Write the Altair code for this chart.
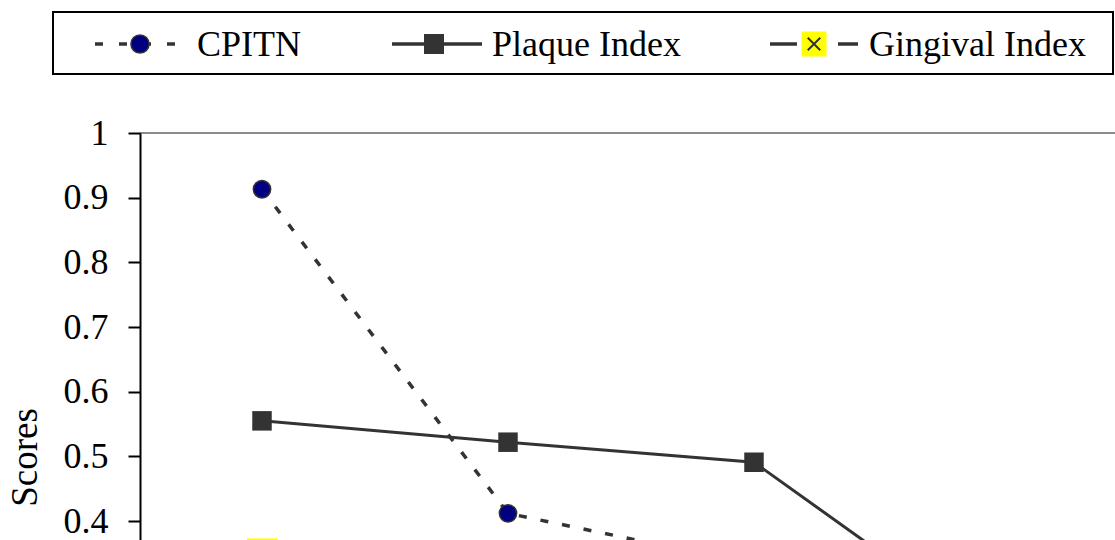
import altair as alt
import pandas as pd

# ---- data ----
categories = ["Baseline", "1 month", "3 months", "6 months"]
cpitn = [0.913, 0.412, 0.333, 0.30]
plaque = [0.555, 0.522, 0.491, 0.219]
gingival = [0.35, 0.31, 0.27, 0.20]
series_names = ["CPITN", "Plaque Index", "Gingival Index"]
y_ticks = [0.4, 0.5, 0.6, 0.7, 0.8, 0.9, 1.0]

FONT = "Times New Roman, Liberation Serif, DejaVu Serif, serif"
FS = 36
LEFT, TOP = 140, 133
W, H = 975, 407
Y_MIN = 0.3708
DARK = "#333333"

rows = []
for name, vals in zip(series_names, [cpitn, plaque, gingival]):
    for c, v in zip(categories, vals):
        rows.append({"cat": c, "series": name, "value": v})
df = pd.DataFrame(rows)

xenc = alt.X("cat:N", sort=categories,
             scale=alt.Scale(type="point", domain=categories, range=[122, 860], padding=0),
             axis=None)
yscale = alt.Scale(domain=[Y_MIN, 1.0], nice=False, zero=False)
yenc = alt.Y("value:Q", scale=yscale, title="Scores",
             axis=alt.Axis(values=y_ticks, format="~g", grid=False,
                           domainColor="black", domainWidth=2,
                           tickColor="black", tickWidth=2, tickSize=12,
                           labelFont=FONT, labelFontSize=FS, labelColor="black",
                           labelPadding=20,
                           titleFont=FONT, titleFontSize=FS + 1, titleColor="black",
                           titleFontWeight="normal", titleX=-115, titleY=324,
                           titleAngle=-90, titleAlign="center", titleBaseline="middle",
                           zindex=1))

base = alt.Chart(df).encode(x=xenc, y=yenc)

def sel(name):
    return alt.datum.series == name

top_rule = alt.Chart(pd.DataFrame({"value": [1.0]})).mark_rule(
    color="#8c8c8c", strokeWidth=2).encode(
    y=alt.Y("value:Q", scale=yscale), x=alt.value(0), x2=alt.value(W))

cp_line = base.transform_filter(sel("CPITN")).mark_line(
    color=DARK, strokeWidth=3.5, strokeDash=[8, 14], clip=True)
cp_pts = base.transform_filter(sel("CPITN")).mark_point(
    shape="circle", filled=True, fill="#000080", stroke=DARK, strokeWidth=1.5,
    size=300, opacity=1, clip=True)
pl_line = base.transform_filter(sel("Plaque Index")).mark_line(
    color=DARK, strokeWidth=3, clip=True)
pl_pts = base.transform_filter(sel("Plaque Index")).mark_point(
    shape="square", filled=True, fill=DARK, size=380, opacity=1, clip=True)
gi_line = base.transform_filter(sel("Gingival Index")).mark_line(
    color=DARK, strokeWidth=3, strokeDash=[26, 10], clip=True)
gi_pts = base.transform_filter(sel("Gingival Index")).mark_point(
    shape="square", filled=True, fill="#ffff00", size=900, opacity=1, clip=True)
XPATH = "M-0.5,-0.5L0.5,0.5M-0.5,0.5L0.5,-0.5"
gi_x = base.transform_filter(sel("Gingival Index")).mark_point(
    shape=XPATH, filled=False, stroke=DARK, strokeWidth=2, size=900, opacity=1, clip=True)

# ---- legend (drawn in pixel space above the plot) ----
one = pd.DataFrame({"a": [0]})
LY = 44 - TOP

def px(v):
    return v - LEFT

legend_box = alt.Chart(one).mark_rect(fill="white", stroke="black", strokeWidth=2).encode(
    x=alt.value(px(53)), x2=alt.value(px(1113)), y=alt.value(12 - TOP), y2=alt.value(74 - TOP))

def seg(x1, x2, dash=None):
    kw = dict(color=DARK, strokeWidth=3.5)
    if dash:
        kw["strokeDash"] = dash
    return alt.Chart(one).mark_rule(**kw).encode(
        x=alt.value(px(x1)), x2=alt.value(px(x2)), y=alt.value(LY), y2=alt.value(LY))

def sym(xc, **kw):
    return alt.Chart(one).mark_point(opacity=1, **kw).encode(
        x=alt.value(px(xc)), y=alt.value(LY))

def txt(x0, s):
    return alt.Chart(one).mark_text(text=s, font=FONT, fontSize=FS, color="black",
                                    align="left", baseline="middle").encode(
        x=alt.value(px(x0)), y=alt.value(LY + 1))

legend = [
    legend_box,
    seg(95, 176, [8, 16]),
    sym(140, shape="circle", filled=True, fill="#000080", stroke=DARK, strokeWidth=1.5, size=330),
    txt(197, series_names[0]),
    seg(392, 482),
    sym(434, shape="square", filled=True, fill=DARK, size=400),
    txt(492, series_names[1]),
    seg(770, 797),
    seg(838, 858),
    sym(814, shape="square", filled=True, fill="#ffff00", size=625),
    sym(814, shape=XPATH, filled=False, stroke=DARK, strokeWidth=2, size=625),
    txt(869, series_names[2]),
]

chart = alt.layer(
    top_rule, cp_line, pl_line, gi_line, pl_pts, cp_pts, gi_pts, gi_x, *legend
).properties(
    width=W, height=H,
    autosize=alt.AutoSizeParams(type="none"),
    padding={"left": LEFT, "top": TOP, "right": 0, "bottom": 0},
).configure_view(stroke=None)

chart.save("out.html", embed_options={"renderer": "svg", "actions": False})
